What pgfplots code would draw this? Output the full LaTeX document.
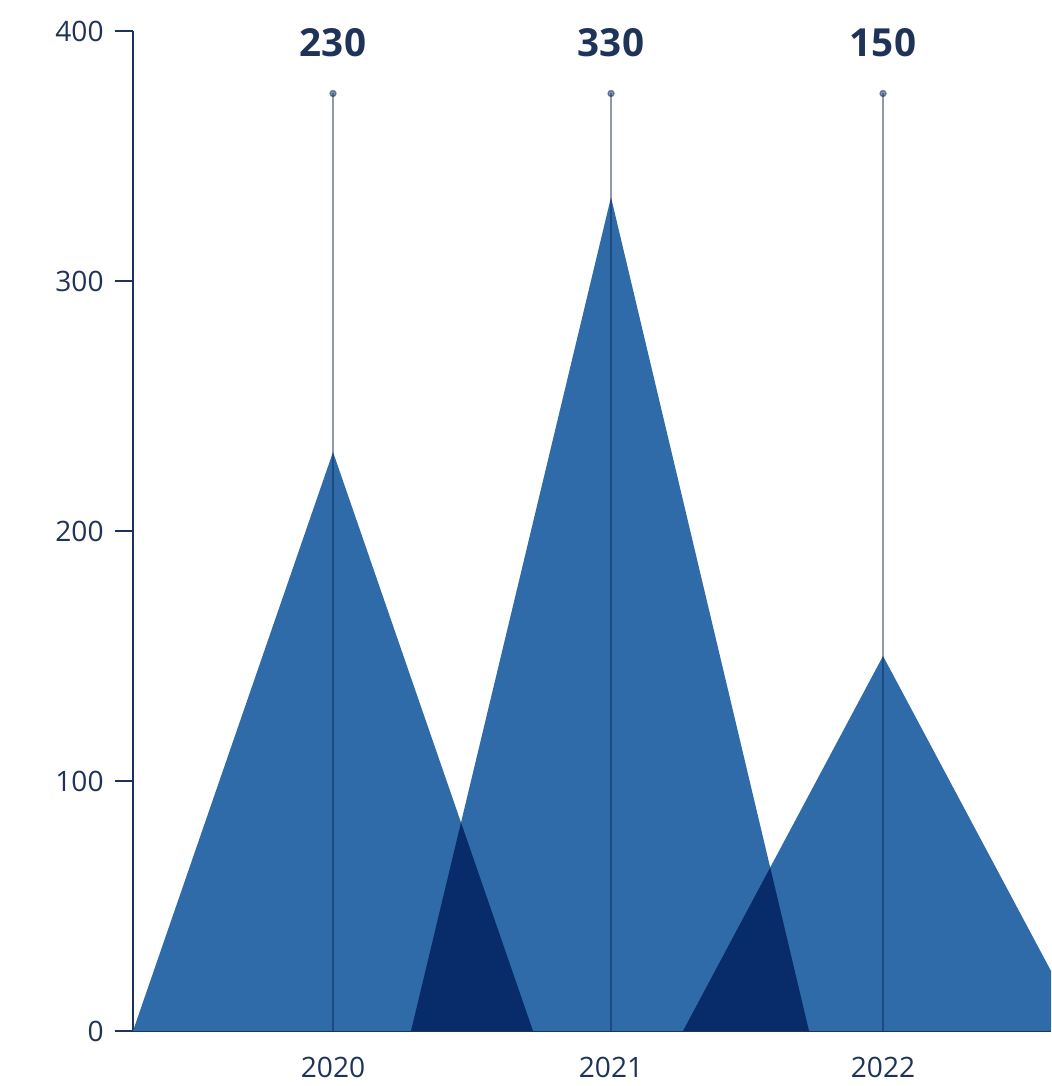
\documentclass[border=0pt]{standalone}
\usepackage{pgfplots}
\pgfplotsset{compat=1.18}
\usepackage{fontspec}
\setmainfont{Open Sans}
\definecolor{tri}{HTML}{2F6BA8}
\definecolor{ovl}{HTML}{082B6A}
\definecolor{axc}{HTML}{1F3358}
\definecolor{stem}{HTML}{0C2655}
\begin{document}
\begin{tikzpicture}
\begin{axis}[
  name=ax,
  scale only axis,
  width=91.8mm, height=100mm,
  xmin=133, xmax=1051, ymin=0, ymax=400,
  axis x line=bottom, axis y line=left,
  axis line style={axc, line width=0.5pt, -},
  xtick={333,611,883}, xticklabels={2020,2021,2022},
  ytick={0,100,200,300,400},
  major x tick style={draw=none},
  y tick style={axc, line width=0.5pt},
  tick align=outside,
  major tick length=1.8mm,
  /pgf/number format/assume math mode=true,
  ticklabel style={font=\fontsize{8}{9}\selectfont, text=axc},
  xticklabel style={yshift=0.4mm},
  yticklabel style={xshift=0.1mm},
  clip=true,
]
% triangles
\addplot[fill=tri, draw=none] coordinates {(133,0) (333,231.6) (533,0)} --cycle;
\addplot[fill=tri, draw=none] coordinates {(411,0) (611,333.5) (809,0)} --cycle;
\addplot[fill=tri, draw=none] coordinates {(683,0) (883,150) (1083,0)} --cycle;
% overlaps
\addplot[fill=ovl, draw=none] coordinates {(411,0) (461.0,83.4) (533,0)} --cycle;
\addplot[fill=ovl, draw=none] coordinates {(683,0) (770.2,65.4) (809,0)} --cycle;
% stems with value labels
\addplot[ycomb, draw=stem, draw opacity=0.47, line width=0.4pt,
  mark=*, mark size=0.3mm, mark options={fill=stem, draw=none, fill opacity=0.47},
  point meta=explicit symbolic,
  nodes near coords,
  every node near coord/.style={anchor=center, yshift=5.1mm, font=\fontsize{11}{12}\bfseries, text=axc, opacity=1}
] table[meta=lab] {
x y lab
333 375 230
611 375 330
883 375 150
};
\end{axis}
\pgfresetboundingbox
\path[use as bounding box] (ax.south west) ++(-13.3mm,-5.5mm) rectangle ++(105.1mm,108.6mm);
\end{tikzpicture}
\end{document}
